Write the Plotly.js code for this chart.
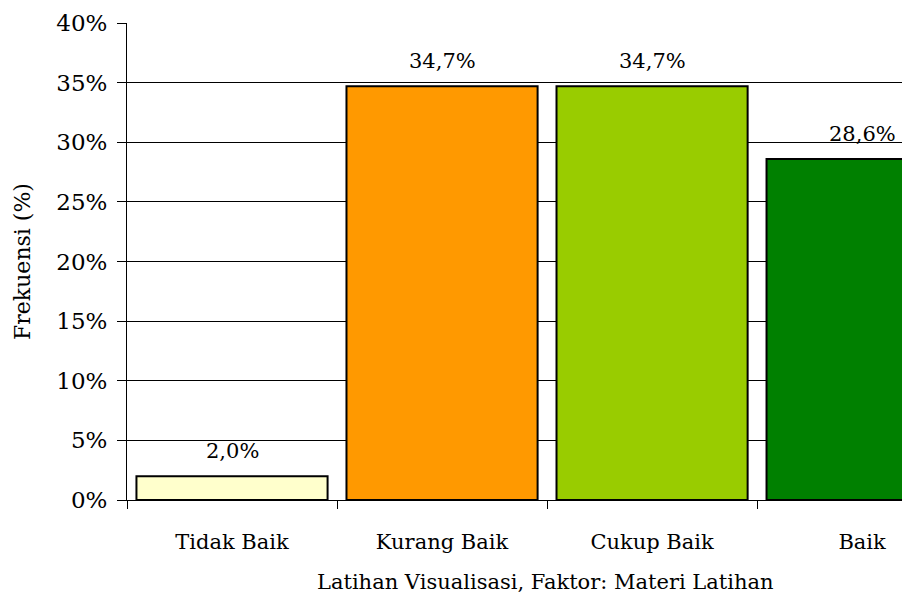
<!DOCTYPE html>
<html>
<head>
<meta charset="utf-8">
<script src="https://cdn.plot.ly/plotly-3.0.1.min.js"></script>
<style>html,body{margin:0;padding:0;background:#fff;}#chart{width:902px;height:596px;}</style>
</head>
<body>
<div id="chart"></div>
<script>
const categories = ["Tidak Baik", "Kurang Baik", "Cukup Baik", "Baik"];
const values = [2.0, 34.7, 34.7, 28.6];
const barColors = ["#FFFFCC", "#FF9900", "#99CC00", "#008000"];
const yTicks = [0, 5, 10, 15, 20, 25, 30, 35, 40];
const xTitle = "Latihan Visualisasi, Faktor: Materi Latihan";
const yTitle = "Frekuensi (%)";

const font = "DejaVu Serif, Liberation Serif, serif";

const trace = {
  type: "bar",
  x: categories,
  y: values,
  width: 0.91,
  marker: { color: barColors, line: { color: "#000", width: 2 } },
  hoverinfo: "none"
};

const annotations = categories.map((c, i) => ({
  x: c, y: values[i], xref: "x", yref: "y",
  text: values[i].toFixed(1).replace(".", ",") + "%",
  showarrow: false, yanchor: "bottom", yshift: 11,
  font: { family: font, size: 21, color: "#000" }
}));

// x-axis title centred on the full (partly cropped) category span
annotations.push({
  x: 0.5406, y: 0, xref: "paper", yref: "paper",
  text: xTitle, showarrow: false,
  xanchor: "center", yanchor: "middle", yshift: -82,
  font: { family: font, size: 21, color: "#000" }
});

const layout = {
  width: 902, height: 596,
  margin: { l: 127, r: 0, t: 23, b: 96 },
  paper_bgcolor: "#fff", plot_bgcolor: "#fff",
  showlegend: false,
  separators: ",.",
  font: { family: font, size: 21, color: "#000" },
  xaxis: {
    type: "category",
    range: [-0.5, 3.19],
    tickson: "boundaries",
    ticks: "outside", ticklen: 8, tickcolor: "#000", tickwidth: 1,
    ticklabelstandoff: 23,
    showline: true, linecolor: "#000", linewidth: 1,
    showgrid: false, zeroline: false,
    tickfont: { family: font, size: 21, color: "#000" }
  },
  yaxis: {
    range: [0, 40],
    tickvals: yTicks,
    ticktext: yTicks.map(v => v + "%"),
    ticks: "outside", ticklen: 9, tickcolor: "#000", tickwidth: 1,
    ticklabelstandoff: 5,
    showline: true, linecolor: "#000", linewidth: 1,
    showgrid: true, gridcolor: "#000", gridwidth: 1,
    zeroline: false,
    tickfont: { family: font, size: 23, color: "#000" },
    title: { text: yTitle, font: { family: font, size: 22, color: "#000" }, standoff: 19 }
  },
  annotations: annotations
};

Plotly.newPlot("chart", [trace], layout, { displayModeBar: false, staticPlot: true });
</script>
</body>
</html>
